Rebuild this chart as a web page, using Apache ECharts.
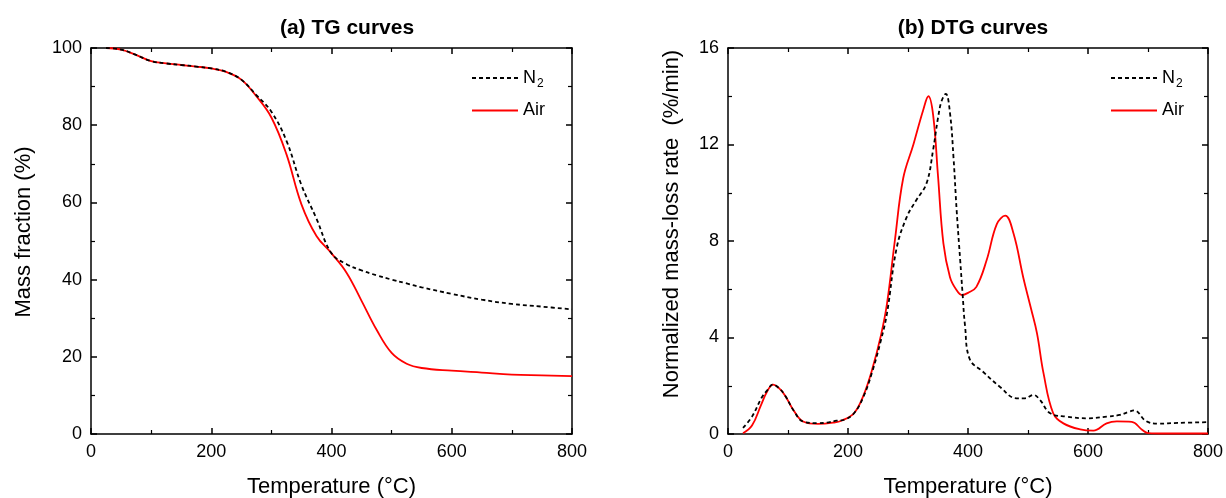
<!DOCTYPE html>
<html>
<head>
<meta charset="utf-8">
<script src="https://cdn.jsdelivr.net/npm/echarts@6/dist/echarts.min.js"></script>
<style>
  html, body { margin: 0; padding: 0; background: #fff; }
  #main { width: 1226px; height: 498px; }
</style>
</head>
<body>
<div id="main"></div>
<script>
// TG curves (mass fraction %, against temperature)
var tgTemp = [25, 50, 75, 100, 125, 150, 175, 200, 225, 250, 275, 300, 325, 350, 375, 400, 425, 450, 475, 500, 525, 550, 600, 650, 700, 750, 800];
var tgN2   = [100, 99.6, 98.2, 96.6, 96.0, 95.6, 95.2, 94.7, 93.8, 91.8, 87.8, 83.5, 76.0, 64.5, 55.8, 46.8, 44.0, 42.4, 41.1, 40.0, 39.0, 38.0, 36.3, 34.8, 33.7, 33.0, 32.3];
var tgAir  = [100, 99.6, 98.2, 96.6, 96.0, 95.6, 95.2, 94.7, 93.8, 91.8, 87.5, 82.0, 72.5, 59.5, 51.3, 46.8, 41.8, 34.5, 27.0, 21.0, 18.2, 17.1, 16.4, 15.9, 15.4, 15.2, 15.0];

// DTG curves (normalized mass-loss rate %/min)
var dtgN2Temp = [25, 40, 56, 65, 75, 85, 95, 110, 125, 150, 165, 181, 195, 210, 225, 240, 255, 265, 281, 298, 314, 331, 342, 350, 356, 363, 370, 376, 381, 387, 391, 395, 403, 425, 453, 481, 495, 509, 520, 537, 565, 598, 631, 653, 667, 677, 697, 717, 750, 800];
var dtgN2     = [0.25, 0.72, 1.5, 1.8, 2.05, 1.9, 1.6, 0.95, 0.52, 0.45, 0.47, 0.55, 0.6, 0.86, 1.5, 2.55, 3.9, 5.0, 7.7, 9.0, 9.7, 10.4, 11.8, 13.1, 13.8, 14.1, 13.3, 11.4, 9.3, 7.2, 5.8, 4.5, 3.1, 2.58, 1.96, 1.48, 1.48, 1.62, 1.41, 0.86, 0.72, 0.65, 0.72, 0.79, 0.91, 0.98, 0.53, 0.43, 0.46, 0.49];
var dtgAirTemp = [25, 40, 55, 65, 75, 85, 95, 110, 125, 150, 175, 190, 210, 225, 240, 255, 265, 278, 292, 309, 325, 334, 342, 350, 359, 370, 380, 390, 400, 414, 431, 448, 462, 476, 492, 505, 515, 526, 542, 559, 587, 609, 631, 648, 673, 690, 700, 730, 800];
var dtgAir     = [0.03, 0.35, 1.2, 1.75, 2.05, 1.9, 1.6, 0.95, 0.52, 0.42, 0.47, 0.56, 0.86, 1.55, 2.65, 4.1, 5.4, 8.0, 10.6, 12.0, 13.4, 14.0, 13.2, 10.7, 7.9, 6.5, 6.0, 5.76, 5.85, 6.1, 7.2, 8.7, 9.05, 8.3, 6.5, 5.2, 4.17, 2.5, 0.86, 0.44, 0.19, 0.14, 0.44, 0.52, 0.5, 0.18, 0.04, 0.02, 0.02];

function zip(xs, ys) {
  return xs.map(function (x, i) { return [x, ys[i]]; });
}

var FONT = 'Liberation Sans, Arial, sans-serif';

// bottom/left axis with labels, top/right axis mirrored with ticks only
function xAxes(grid) {
  var base = {
    type: 'value', gridIndex: grid, min: 0, max: 800, interval: 200,
    axisLine: { onZero: false, lineStyle: { color: '#000', width: 1.5 } },
    axisTick: { inside: true, length: 6, lineStyle: { color: '#000', width: 1.5 } },
    minorTick: { show: true, splitNumber: 2, length: 4, lineStyle: { color: '#000', width: 1.2 } },
    splitLine: { show: false }
  };
  return [
    Object.assign({}, base, {
      position: 'bottom',
      name: 'Temperature (\u00B0C)', nameLocation: 'middle', nameGap: 42,
      nameTextStyle: { fontFamily: FONT, fontSize: 22, color: '#000' },
      axisLabel: { fontFamily: FONT, fontSize: 18, color: '#000', margin: 9 }
    }),
    Object.assign({}, base, { position: 'top', axisLabel: { show: false } })
  ];
}

function yAxes(grid, max, step, name, gap, shift) {
  var base = {
    type: 'value', gridIndex: grid, min: 0, max: max, interval: step,
    axisLine: { show: true, onZero: false, lineStyle: { color: '#000', width: 1.5 } },
    axisTick: { show: true, inside: true, length: 6, lineStyle: { color: '#000', width: 1.5 } },
    minorTick: { show: true, splitNumber: 2, length: 4, lineStyle: { color: '#000', width: 1.2 } },
    splitLine: { show: false }
  };
  return [
    Object.assign({}, base, {
      position: 'left',
      name: name, nameLocation: 'middle', nameGap: gap,
      nameTextStyle: { fontFamily: FONT, fontSize: 22, color: '#000', padding: [0, 0, 0, shift] },
      axisLabel: { fontFamily: FONT, fontSize: 18, color: '#000', margin: 9 }
    }),
    Object.assign({}, base, { position: 'right', axisLabel: { show: false } })
  ];
}

function legend(left) {
  return {
    data: ['N2', 'Air'],
    orient: 'vertical',
    left: left, top: 64,
    itemWidth: 46, itemHeight: 14, itemGap: 12,
    selectedMode: false,
    itemStyle: { opacity: 0 },
    formatter: function (name) {
      return name === 'N2' ? '{t|N}{s|2}' : '{t|Air}';
    },
    textStyle: {
      fontFamily: FONT, fontSize: 18, color: '#000',
      rich: {
        t: { fontFamily: FONT, fontSize: 18, color: '#000' },
        s: { fontFamily: FONT, fontSize: 12, color: '#000', padding: [11, 0, 0, 1] }
      }
    }
  };
}

function line(name, xi, yi, data, color, dashed) {
  return {
    name: name, type: 'line', xAxisIndex: xi, yAxisIndex: yi,
    data: data, symbol: 'none', smooth: 0.4,
    lineStyle: { color: color, width: 1.8, type: dashed ? [4, 3] : 'solid' },
    itemStyle: { color: color },
    z: dashed ? 3 : 2
  };
}

var chart = echarts.init(document.getElementById('main'));
chart.setOption({
  animation: false,
  backgroundColor: '#fff',
  title: [
    { text: '(a) TG curves', left: 342, top: 13, textAlign: 'center',
      textStyle: { fontFamily: FONT, fontSize: 21, fontWeight: 'bold', color: '#000' } },
    { text: '(b) DTG curves', left: 968, top: 13, textAlign: 'center',
      textStyle: { fontFamily: FONT, fontSize: 21, fontWeight: 'bold', color: '#000' } }
  ],
  legend: [legend(466), legend(1105)],
  grid: [
    { left: 91, top: 48, width: 481, height: 386, outerBoundsMode: 'none' },
    { left: 728, top: 48, width: 480, height: 386, outerBoundsMode: 'none' }
  ],
  xAxis: xAxes(0).concat(xAxes(1)),
  yAxis: yAxes(0, 100, 20, 'Mass fraction (%)', 56, 18)
    .concat(yAxes(1, 16, 4, 'Normalized mass-loss rate  (%/min)', 45, 34)),
  series: [
    line('N2', 0, 0, zip(tgTemp, tgN2), '#000', true),
    line('Air', 0, 0, zip(tgTemp, tgAir), '#ff0000', false),
    line('N2', 2, 2, zip(dtgN2Temp, dtgN2), '#000', true),
    line('Air', 2, 2, zip(dtgAirTemp, dtgAir), '#ff0000', false)
  ]
});
</script>
</body>
</html>
